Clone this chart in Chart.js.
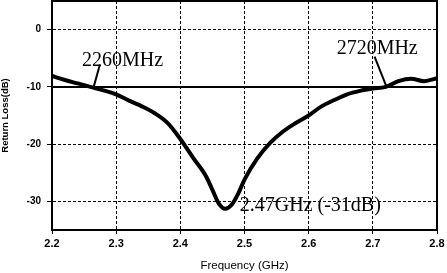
<!DOCTYPE html>
<html><head><meta charset="utf-8">
<script src="https://cdn.jsdelivr.net/npm/chart.js@4"></script>
<style>html,body{margin:0;padding:0;background:#fff;}#wrap{width:447px;height:273px;position:relative;}</style>
</head><body><div id="wrap"><canvas id="c"></canvas></div>
<script>
// ---- data ----
const freqs      = [2.20,2.22,2.24,2.26,2.28,2.30,2.32,2.34,2.36,2.38,2.40,2.42,2.44,2.45,2.46,2.47,2.48,2.49,2.50,2.52,2.54,2.56,2.58,2.60,2.62,2.64,2.66,2.68,2.70,2.72,2.74,2.76,2.78,2.80];
const returnLoss = [-8.1,-8.8,-9.4,-10.0,-10.6,-11.3,-12.4,-13.4,-14.6,-16.3,-19.1,-22.4,-25.6,-28.0,-30.4,-31.3,-30.6,-28.7,-26.2,-22.5,-19.8,-17.8,-16.3,-15.0,-13.4,-12.3,-11.3,-10.7,-10.3,-10.0,-9.0,-8.6,-9.0,-8.5];
const xTicks = [2.2,2.3,2.4,2.5,2.6,2.7,2.8];
const yTicks = [-30,-20,-10,0];
const thresholdDb = -10;
const bandEdgeLabels = ['2260MHz','2720MHz'];
const bandEdgeFreqs  = [2.26, 2.72];
const resonanceLabel = '2.47GHz (-31dB)';
const resonanceFreq = 2.47, resonanceDb = -31;

// ---- annotation placement (data coordinates) ----
const annoPlace = [
  {text: bandEdgeLabels[0], tx: 2.2467, ty: -6.4, lx: 2.2747, ly: -6.1, px: 2.265, py: thresholdDb},
  {text: bandEdgeLabels[1], tx: 2.6436, ty: -4.3, lx: 2.7027, ly: -4.7, px: 2.7214, py: thresholdDb},
  {text: resonanceLabel,   tx: 2.4926, ty: -31.6}
];

const annoPlugin = {
  id: 'anno',
  afterDatasetsDraw(chart) {
    const {ctx, chartArea: a, scales: {x, y}} = chart;
    ctx.save();
    ctx.strokeStyle = '#000';
    ctx.lineWidth = 2;
    ctx.strokeRect(a.left, a.top, a.right - a.left, a.bottom - a.top);
    ctx.fillStyle = '#000';
    ctx.font = '20px "Liberation Serif", "Times New Roman", serif';
    ctx.textBaseline = 'alphabetic';
    ctx.textAlign = 'left';
    annoPlace.forEach(p => {
      ctx.fillText(p.text, x.getPixelForValue(p.tx), y.getPixelForValue(p.ty));
      if (p.lx !== undefined) {
        ctx.beginPath();
        ctx.lineWidth = 2;
        ctx.moveTo(x.getPixelForValue(p.lx), y.getPixelForValue(p.ly));
        ctx.lineTo(x.getPixelForValue(p.px), y.getPixelForValue(p.py));
        ctx.stroke();
      }
    });
    ctx.restore();
  }
};

new Chart(document.getElementById('c'), {
  type: 'line',
  data: {
    datasets: [
      {
        data: freqs.map((f, i) => ({x: f, y: returnLoss[i]})),
        borderColor: '#000', borderWidth: 4, pointRadius: 0,
        cubicInterpolationMode: 'monotone', fill: false
      },
      {
        data: [{x: xTicks[0], y: thresholdDb}, {x: xTicks[xTicks.length - 1], y: thresholdDb}],
        borderColor: '#000', borderWidth: 2, pointRadius: 0, fill: false
      }
    ]
  },
  options: {
    responsive: true, maintainAspectRatio: false, animation: false,
    layout: {padding: {top: 1, right: 10, left: 0, bottom: 0}},
    plugins: {legend: {display: false}, tooltip: {enabled: false}},
    scales: {
      x: {
        type: 'linear', min: 2.2, max: 2.8,
        afterBuildTicks: ax => { ax.ticks = xTicks.map(v => ({value: v})); },
        afterFit: ax => { ax.height = 43; ax.paddingLeft = 0; ax.paddingRight = 0; },
        ticks: {color: '#000', font: {family: 'Liberation Sans, Arial', size: 11, weight: 'bold'}, padding: 3,
                callback: v => Number(v).toFixed(1), maxRotation: 0, autoSkip: false},
        grid: {color: '#000', lineWidth: 1, drawTicks: true, tickLength: 4, tickColor: '#000'},
        border: {display: true, color: '#000', width: 2, dash: [3, 2]},
        title: {display: true, text: 'Frequency (GHz)', color: '#000',
                font: {family: 'Liberation Sans, Arial', size: 11.5, weight: 'normal'}, padding: {top: 0, bottom: 0}}
      },
      y: {
        type: 'linear', min: -35, max: 5,
        afterBuildTicks: ax => { ax.ticks = yTicks.map(v => ({value: v})); },
        afterFit: ax => { ax.width = 52; ax.paddingTop = 0; ax.paddingBottom = 0; },
        ticks: {color: '#000', font: {family: 'Liberation Sans, Arial', size: 10, weight: 'bold'}, padding: 6},
        grid: {color: '#000', lineWidth: 1, drawTicks: true, tickLength: 5, tickColor: '#000'},
        border: {display: true, color: '#000', width: 2, dash: [3, 2]},
        title: {display: true, text: 'Return Loss(dB)', color: '#000',
                font: {family: 'Liberation Sans, Arial', size: 9.5, weight: 'bold'}, padding: {top: 0, bottom: 0}}
      }
    }
  },
  plugins: [annoPlugin]
});
</script></body></html>
